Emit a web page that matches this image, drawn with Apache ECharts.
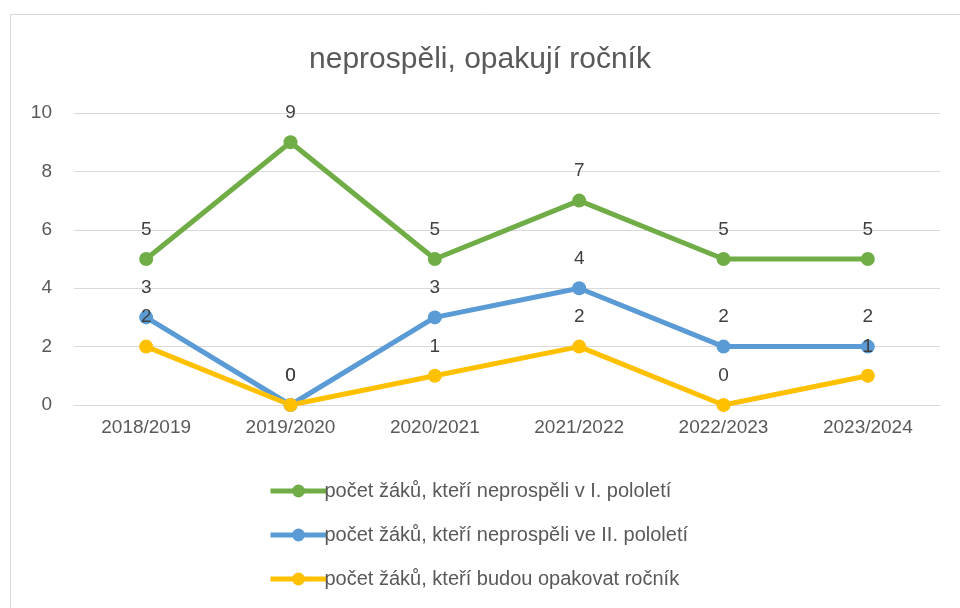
<!DOCTYPE html>
<html>
<head>
<meta charset="utf-8">
<script src="https://cdn.jsdelivr.net/npm/echarts@6/dist/echarts.min.js"></script>
<style>
    html, body { margin: 0; padding: 0; background: #fff; }
    #chart { width: 960px; height: 608px; }
</style>
</head>
<body>
<div id="chart"></div>
<script>
var years = ['2018/2019', '2019/2020', '2020/2021', '2021/2022', '2022/2023', '2023/2024'];
var firstHalf = [5, 9, 5, 7, 5, 5];
var secondHalf = [3, 0, 3, 4, 2, 2];
var repeatYear = [2, 0, 1, 2, 0, 1];
var seriesNames = [
    'počet žáků, kteří neprospěli v I. pololetí',
    'počet žáků, kteří neprospěli ve II. pololetí',
    'počet žáků, kteří budou opakovat ročník'
];

var fontName = 'Liberation Sans';
var textColor = '#595959';

function lineSeries(name, data, color) {
    return {
        name: name,
        type: 'line',
        data: data,
        symbol: 'circle',
        symbolSize: 14,
        itemStyle: { color: color },
        lineStyle: { color: color, width: 5 },
        label: {
            show: true,
            position: 'top',
            distance: 13,
            color: '#404040',
            fontSize: 19,
            fontFamily: fontName
        }
    };
}

var chartDom = document.getElementById('chart');
var myChart = echarts.init(chartDom);
var option = {
    animation: false,
    title: {
        text: 'neprospěli, opakují ročník',
        left: 'center',
        top: 40,
        textStyle: {
            color: textColor,
            fontSize: 30,
            fontWeight: 'normal',
            fontFamily: fontName
        }
    },
    graphic: [{
        type: 'rect',
        shape: { x: 10.5, y: 14.5, width: 960, height: 620 },
        style: { fill: 'none', stroke: '#d9d9d9', lineWidth: 1 },
        silent: true
    }],
    grid: {
        left: 74,
        right: 20,
        top: 113,
        bottom: 203
    },
    xAxis: {
        type: 'category',
        data: years,
        boundaryGap: true,
        axisLine: { lineStyle: { color: '#d9d9d9', width: 1 } },
        axisTick: { show: false },
        axisLabel: {
            color: textColor,
            fontSize: 19,
            fontFamily: fontName,
            margin: 13
        }
    },
    yAxis: {
        type: 'value',
        min: 0,
        max: 10,
        interval: 2,
        axisLine: { show: false },
        axisTick: { show: false },
        splitLine: { lineStyle: { color: '#d9d9d9', width: 1 } },
        axisLabel: {
            color: textColor,
            fontSize: 19,
            fontFamily: fontName,
            margin: 22
        }
    },
    legend: {
        orient: 'vertical',
        left: 263,
        top: 476,
        itemWidth: 56,
        itemHeight: 16,
        itemGap: 24,
        lineStyle: { width: 5 },
        itemStyle: { borderWidth: 0 },
        textStyle: {
            color: textColor,
            fontSize: 20,
            fontFamily: fontName,
            padding: [0, 0, 0, -7]
        },
        data: seriesNames
    },
    series: [
        lineSeries(seriesNames[0], firstHalf, '#70ad47'),
        lineSeries(seriesNames[1], secondHalf, '#5b9bd5'),
        lineSeries(seriesNames[2], repeatYear, '#ffc000')
    ]
};

myChart.setOption(option);
</script>
</body>
</html>
